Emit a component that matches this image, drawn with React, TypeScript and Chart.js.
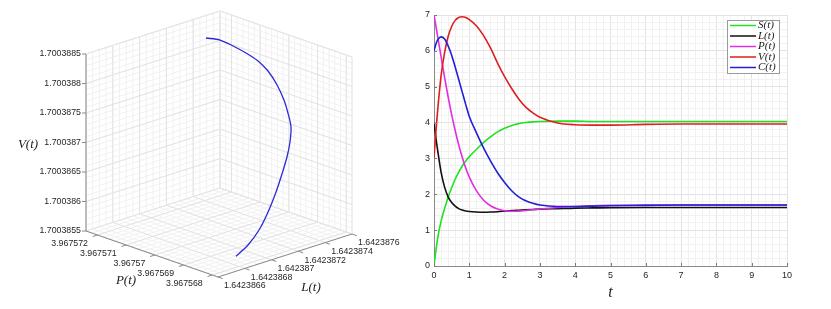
import React, { useEffect, useRef } from 'react';
import { Chart, registerables } from 'chart.js';
Chart.register(...registerables);

// ---------- Right panel: time series ----------
const T_VALUES = [0, 0.05, 0.1, 0.2, 0.3, 0.4, 0.5, 0.6, 0.7, 0.8, 0.9, 1.0, 1.2, 1.4, 1.6, 1.8, 2.0, 2.2, 2.4, 2.6, 2.8, 3.0, 3.5, 4.0, 4.5, 5, 6, 7, 8, 9, 10];
const S_VALUES = [0, 0.4, 0.75, 1.25, 1.6, 1.92, 2.18, 2.42, 2.62, 2.79, 2.93, 3.05, 3.25, 3.44, 3.6, 3.74, 3.84, 3.92, 3.97, 4.0, 4.02, 4.03, 4.04, 4.04, 4.03, 4.03, 4.03, 4.03, 4.03, 4.03, 4.03];
const L_VALUES = [4.0, 3.6, 3.25, 2.62, 2.2, 1.93, 1.77, 1.67, 1.6, 1.56, 1.535, 1.52, 1.505, 1.5, 1.505, 1.515, 1.53, 1.545, 1.555, 1.565, 1.575, 1.585, 1.6, 1.615, 1.62, 1.625, 1.63, 1.63, 1.63, 1.63, 1.63];
const P_VALUES = [7.0, 6.72, 6.42, 5.84, 5.26, 4.72, 4.22, 3.78, 3.38, 3.03, 2.73, 2.48, 2.1, 1.84, 1.68, 1.59, 1.54, 1.525, 1.53, 1.55, 1.57, 1.59, 1.63, 1.66, 1.68, 1.69, 1.7, 1.7, 1.7, 1.7, 1.7];
const V_VALUES = [3.0, 3.7, 4.3, 5.3, 5.95, 6.4, 6.68, 6.85, 6.93, 6.95, 6.93, 6.87, 6.7, 6.43, 6.08, 5.66, 5.28, 4.95, 4.66, 4.43, 4.27, 4.15, 3.99, 3.94, 3.93, 3.93, 3.95, 3.96, 3.96, 3.96, 3.96];
const C_VALUES = [6.0, 6.18, 6.3, 6.39, 6.33, 6.14, 5.88, 5.55, 5.2, 4.85, 4.5, 4.17, 3.72, 3.3, 2.93, 2.6, 2.33, 2.1, 1.93, 1.82, 1.75, 1.7, 1.66, 1.66, 1.67, 1.68, 1.69, 1.7, 1.7, 1.7, 1.7];
const SERIES_LABELS = ['S(t)', 'L(t)', 'P(t)', 'V(t)', 'C(t)'];
const SERIES_COLORS = ['#22e022', '#111111', '#e030e0', '#dd1f1f', '#2020d8'];

// ---------- Left panel: 3D trajectory ----------
const TRAJ_L = [1.642387249, 1.64238732, 1.642387384, 1.642387447, 1.642387503, 1.642387544, 1.642387578, 1.642387596, 1.642387592, 1.642387581, 1.64238754, 1.642387484, 1.642387413, 1.642387335, 1.642387242, 1.642387141, 1.642387025, 1.642386902];
const TRAJ_P = [3.96757125, 3.967571093, 3.967570936, 3.967570779, 3.967570622, 3.967570465, 3.967570308, 3.967570152, 3.967569995, 3.967569837, 3.967569681, 3.967569524, 3.967569367, 3.96756921, 3.967569053, 3.967568896, 3.967568739, 3.967568582];
const TRAJ_V = [1.700388493, 1.700388434, 1.700388313, 1.700388175, 1.700388025, 1.700387852, 1.700387617, 1.700387375, 1.700387185, 1.700386982, 1.700386784, 1.700386597, 1.700386388, 1.700386166, 1.700385922, 1.700385717, 1.700385574, 1.7003855];

const L_TICKS = [1.6423866, 1.6423868, 1.642387, 1.6423872, 1.6423874, 1.6423876];
const L_TICK_LABELS = ['1.6423866', '1.6423868', '1.642387', '1.6423872', '1.6423874', '1.6423876'];
const P_TICKS = [3.967568, 3.967569, 3.96757, 3.967571, 3.967572];
const P_TICK_LABELS = ['3.967568', '3.967569', '3.96757', '3.967571', '3.967572'];
const V_TICKS = [1.7003855, 1.700386, 1.7003865, 1.700387, 1.7003875, 1.700388, 1.7003885];
const V_TICK_LABELS = ['1.7003855', '1.700386', '1.7003865', '1.700387', '1.7003875', '1.700388', '1.7003885'];
const L_RANGE = [1.6423866, 1.6423876];
const P_RANGE = [3.9675678, 3.9675724];
const V_RANGE = [1.7003855, 1.7003885];
const L_MINOR_STEP = 0.05e-6;
const P_MINOR_STEP = 0.2e-6;
const V_MINOR_STEP = 0.1e-6;

// view geometry (pixel displacement per unit of normalized axis)
const W_LEFT = 415;
const H_ALL = 309;
const ORIGIN = { x: 86, y: 231 };
const AX_U = { x: 134, y: -43 };
const AX_P = { x: 132, y: 46 };
const AX_H = { x: 0, y: -177 };

const TICK_FONT = '8.8px "Liberation Sans", Arial, sans-serif';
const TICK_COLOR = '#262626';
const MATH_FONT = 'italic 13px "Liberation Serif", "DejaVu Serif", serif';
const MAJOR_GRID = '#e3e3e3';
const MINOR_GRID = '#f1f1f1';
const AXIS_COLOR = '#8a8a8a';

const normL = (L: number) => (L - L_RANGE[0]) / (L_RANGE[1] - L_RANGE[0]);
const normP = (P: number) => (P_RANGE[1] - P) / (P_RANGE[1] - P_RANGE[0]);
const normV = (V: number) => (V - V_RANGE[0]) / (V_RANGE[1] - V_RANGE[0]);
const projN = (u: number, p: number, h: number) => ({
  x: AX_U.x * u + AX_P.x * p + AX_H.x * h,
  y: -(AX_U.y * u + AX_P.y * p + AX_H.y * h),
});
const project = (L: number, P: number, V: number) => projN(normL(L), normP(P), normV(V));

function minorValues(start: number, step: number, lo: number, hi: number) {
  const out: number[] = [];
  for (let k = -50; k <= 100; k++) {
    const v = start + k * step;
    if (v >= lo - 1e-12 && v <= hi + 1e-12) out.push(v);
  }
  return out;
}

const grid3dPlugin = {
  id: 'grid3d',
  beforeDatasetsDraw(chart: any) {
    const ctx = chart.ctx as CanvasRenderingContext2D;
    const sx = chart.scales.x, sy = chart.scales.y;
    const px = (u: number, p: number, h: number) => {
      const q = projN(u, p, h);
      return [sx.getPixelForValue(q.x), sy.getPixelForValue(q.y)];
    };
    const seg = (a: number[], b: number[], color: string, w = 1) => {
      ctx.strokeStyle = color;
      ctx.lineWidth = w;
      ctx.beginPath();
      ctx.moveTo(a[0], a[1]);
      ctx.lineTo(b[0], b[1]);
      ctx.stroke();
    };
    ctx.save();
    const uMinor = minorValues(L_TICKS[0], L_MINOR_STEP, L_RANGE[0], L_RANGE[1]).map(normL);
    const pMinor = minorValues(P_TICKS[0], P_MINOR_STEP, P_RANGE[0], P_RANGE[1]).map(normP);
    const hMinor = minorValues(V_TICKS[0], V_MINOR_STEP, V_RANGE[0], V_RANGE[1]).map(normV);
    const uMajor = L_TICKS.map(normL);
    const pMajor = P_TICKS.map(normP);
    const hMajor = V_TICKS.map(normV);
    const drawSet = (us: number[], ps: number[], hs: number[], color: string) => {
      us.forEach((u) => seg(px(u, 0, 0), px(u, 1, 0), color));
      ps.forEach((p) => seg(px(0, p, 0), px(1, p, 0), color));
      us.forEach((u) => seg(px(u, 0, 0), px(u, 0, 1), color));
      hs.forEach((h) => seg(px(0, 0, h), px(1, 0, h), color));
      ps.forEach((p) => seg(px(1, p, 0), px(1, p, 1), color));
      hs.forEach((h) => seg(px(1, 0, h), px(1, 1, h), color));
    };
    drawSet(uMinor, pMinor, hMinor, MINOR_GRID);
    drawSet(uMajor, pMajor, hMajor, MAJOR_GRID);
    const edgeC = '#e6e6e6';
    seg(px(0, 0, 1), px(1, 0, 1), edgeC);
    seg(px(1, 0, 1), px(1, 1, 1), edgeC);
    seg(px(1, 0, 0), px(1, 0, 1), edgeC);
    seg(px(1, 1, 0), px(1, 1, 1), edgeC);
    seg(px(0, 0, 0), px(0, 0, 1), AXIS_COLOR);
    seg(px(0, 0, 0), px(0, 1, 0), AXIS_COLOR);
    seg(px(0, 1, 0), px(1, 1, 0), AXIS_COLOR);

    ctx.font = TICK_FONT;
    ctx.fillStyle = TICK_COLOR;
    ctx.textBaseline = 'middle';
    ctx.textAlign = 'right';
    hMajor.forEach((h, i) => {
      const a = px(0, 0, h);
      seg(a, [a[0] - 4, a[1]], AXIS_COLOR);
      ctx.fillText(V_TICK_LABELS[i], a[0] - 5, a[1]);
    });
    const uLen = Math.hypot(AX_U.x, AX_U.y);
    pMajor.forEach((p, i) => {
      const a = px(0, p, 0);
      seg(a, [a[0] - (AX_U.x / uLen) * 5, a[1] - (AX_U.y / uLen) * 5], AXIS_COLOR);
      ctx.textAlign = 'right';
      ctx.fillText(P_TICK_LABELS[i], a[0] - 9.5, a[1] + 9);
    });
    const pLen = Math.hypot(AX_P.x, AX_P.y);
    uMajor.forEach((u, i) => {
      const a = px(u, 1, 0);
      seg(a, [a[0] + (AX_P.x / pLen) * 5, a[1] + (AX_P.y / pLen) * 5], AXIS_COLOR);
      ctx.textAlign = 'left';
      ctx.fillText(L_TICK_LABELS[i], a[0] + 6, a[1] + 9);
    });
    ctx.font = MATH_FONT;
    ctx.fillStyle = '#222';
    ctx.textAlign = 'center';
    ctx.fillText('V(t)', 28, 145);
    ctx.fillText('P(t)', 126, 281);
    ctx.fillText('L(t)', 311, 288);
    ctx.restore();
  },
};

const isInt = (v: number) => Math.abs(v - Math.round(v)) < 1e-6;

const rightDecorPlugin = {
  id: 'rightDecor',
  afterDraw(chart: any) {
    const ctx = chart.ctx as CanvasRenderingContext2D;
    const { left, bottom } = chart.chartArea;
    const sx = chart.scales.x, sy = chart.scales.y;
    ctx.save();
    ctx.strokeStyle = '#7a7a7a';
    ctx.lineWidth = 1;
    for (let k = 0; k <= 10; k++) {
      const x = Math.round(sx.getPixelForValue(k)) + 0.5;
      ctx.beginPath();
      ctx.moveTo(x, bottom);
      ctx.lineTo(x, bottom - 3);
      ctx.stroke();
    }
    for (let k = 0; k <= 7; k++) {
      const y = Math.round(sy.getPixelForValue(k)) + 0.5;
      ctx.beginPath();
      ctx.moveTo(left, y);
      ctx.lineTo(left + 3, y);
      ctx.stroke();
    }
    const bx = 727 - 415, by = 20, bw = 52, bh = 53;
    ctx.fillStyle = '#fff';
    ctx.fillRect(bx, by, bw, bh);
    ctx.strokeStyle = '#9a9a9a';
    ctx.strokeRect(bx + 0.5, by + 0.5, bw, bh);
    ctx.font = 'italic 11px "Liberation Serif", "DejaVu Serif", serif';
    ctx.textAlign = 'left';
    ctx.textBaseline = 'middle';
    chart.data.datasets.forEach((ds: any, i: number) => {
      const y = by + 5.5 + i * 10.5;
      ctx.strokeStyle = ds.borderColor;
      ctx.lineWidth = 1.5;
      ctx.beginPath();
      ctx.moveTo(bx + 3, y);
      ctx.lineTo(bx + 29, y);
      ctx.stroke();
      ctx.fillStyle = '#222';
      ctx.fillText(ds.label, bx + 31, y);
    });
    ctx.restore();
  },
};

export default function App() {
  const leftRef = useRef<HTMLCanvasElement>(null);
  const rightRef = useRef<HTMLCanvasElement>(null);

  useEffect(() => {
    const trajData = TRAJ_L.map((L, i) => project(L, TRAJ_P[i], TRAJ_V[i]));
    const left = new Chart(leftRef.current as HTMLCanvasElement, {
      type: 'scatter',
      data: {
        datasets: [
          {
            label: 'trajectory',
            data: trajData,
            showLine: true,
            borderColor: '#2a2ad6',
            borderWidth: 1.3,
            pointRadius: 0,
            tension: 0.3,
          },
        ],
      },
      options: {
        responsive: false,
        animation: false,
        devicePixelRatio: 1,
        layout: { padding: 0 },
        plugins: { legend: { display: false }, tooltip: { enabled: false } },
        scales: {
          x: { type: 'linear', display: false, min: -ORIGIN.x, max: W_LEFT - ORIGIN.x },
          y: { type: 'linear', display: false, min: -(H_ALL - ORIGIN.y), max: ORIGIN.y },
        },
      },
      plugins: [grid3dPlugin],
    } as any);

    const series = [S_VALUES, L_VALUES, P_VALUES, V_VALUES, C_VALUES];
    const right = new Chart(rightRef.current as HTMLCanvasElement, {
      type: 'line',
      data: {
        datasets: series.map((vals, i) => ({
          label: SERIES_LABELS[i],
          data: T_VALUES.map((t, j) => ({ x: t, y: vals[j] })),
          borderColor: SERIES_COLORS[i],
          backgroundColor: SERIES_COLORS[i],
          borderWidth: 1.6,
          pointRadius: 0,
          cubicInterpolationMode: 'monotone',
          order: 5 - i,
        })),
      },
      options: {
        responsive: false,
        animation: false,
        devicePixelRatio: 1,
        layout: { padding: { left: 0, right: 44, top: 15, bottom: 0 } },
        plugins: { legend: { display: false }, tooltip: { enabled: false } },
        scales: {
          x: {
            type: 'linear',
            min: 0,
            max: 10,
            afterFit: (s: any) => { s.height = 43; },
            ticks: {
              stepSize: 0.2,
              autoSkip: false,
              maxRotation: 0,
              padding: 4,
              color: TICK_COLOR,
              font: { family: '"Liberation Sans", Arial, sans-serif', size: 9 },
              callback: (v: any) => (isInt(Number(v)) ? String(Math.round(Number(v))) : ''),
            },
            grid: {
              drawTicks: false,
              color: (c: any) => (c.tick && isInt(c.tick.value) ? MAJOR_GRID : MINOR_GRID),
            },
            border: { display: true, color: AXIS_COLOR },
            title: {
              display: true,
              text: 't',
              color: '#222',
              font: { family: '"Liberation Serif", "DejaVu Serif", serif', style: 'italic', size: 16 },
              padding: { top: 0, bottom: 7 },
            },
          },
          y: {
            type: 'linear',
            min: 0,
            max: 7,
            afterFit: (s: any) => { s.width = 19; },
            ticks: {
              stepSize: 0.2,
              autoSkip: false,
              padding: 4,
              color: TICK_COLOR,
              font: { family: '"Liberation Sans", Arial, sans-serif', size: 9 },
              callback: (v: any) => (isInt(Number(v)) ? String(Math.round(Number(v))) : ''),
            },
            grid: {
              drawTicks: false,
              color: (c: any) => (c.tick && isInt(c.tick.value) ? MAJOR_GRID : MINOR_GRID),
            },
            border: { display: true, color: AXIS_COLOR },
          },
        },
      },
      plugins: [rightDecorPlugin],
    } as any);

    return () => {
      left.destroy();
      right.destroy();
    };
  }, []);

  return (
    <div style={{ position: 'fixed', left: 0, top: 0, width: 831, height: 309, background: '#fff' }}>
      <canvas ref={leftRef} width={W_LEFT} height={H_ALL} style={{ position: 'absolute', left: 0, top: 0, width: W_LEFT, height: H_ALL }} />
      <canvas ref={rightRef} width={416} height={H_ALL} style={{ position: 'absolute', left: 415, top: 0, width: 416, height: H_ALL }} />
    </div>
  );
}
